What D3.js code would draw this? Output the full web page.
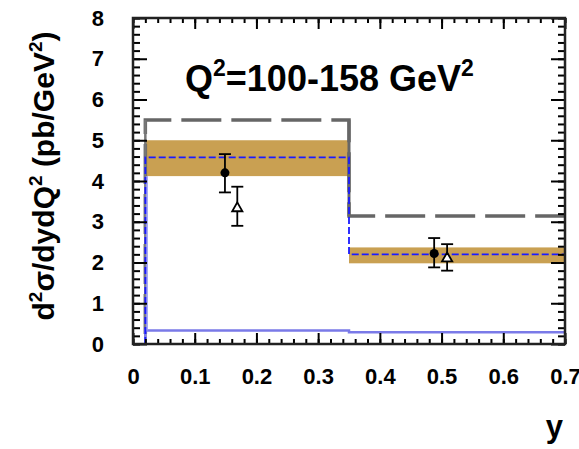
<!DOCTYPE html>
<html>
<head>
<meta charset="utf-8">
<script src="https://cdn.jsdelivr.net/npm/d3@7"></script>
<style>
  body { margin: 0; background: #fff; }
  svg { font-family: "Liberation Sans", Arial, sans-serif; font-weight: bold; }
  .ax path.domain { display: none; }
  .ax line { stroke: #000; stroke-width: 2px; }
  .ax text { font-size: 22px; font-family: "Liberation Sans", Arial, sans-serif; font-weight: bold; fill: #000; }
</style>
</head>
<body>
<div id="chart"></div>
<script>
// bins in y
var binEdges = [0.02, 0.35, 0.7];
// band (uncertainty) per bin
var bandLow = [4.12, 1.98];
var bandHigh = [5.0, 2.37];
// blue dashed prediction
var blueDashed = [4.58, 2.20];
// grey long-dashed prediction
var greyDashed = [5.5, 3.14];
// light blue solid component
var blueSolid = [0.33, 0.29];
// data: filled circles
var circX = [0.149, 0.488];
var circY = [4.20, 2.22];
var circHi = [4.66, 2.60];
var circLo = [3.72, 1.88];
// data: open triangles
var triX = [0.169, 0.509];
var triY = [3.33, 2.10];
var triHi = [3.86, 2.45];
var triLo = [2.90, 1.80];
var xTicks = [0, 0.1, 0.2, 0.3, 0.4, 0.5, 0.6, 0.7];
var yTicks = [0, 1, 2, 3, 4, 5, 6, 7, 8];

var W = 579, H = 449;
var margin = {top: 18, right: 14, bottom: 105, left: 133};
var width = W - margin.left - margin.right,
    height = H - margin.top - margin.bottom;

var svg = d3.select("#chart").append("svg")
  .attr("width", W).attr("height", H)
  .append("g")
  .attr("transform", "translate(" + margin.left + "," + margin.top + ")");

var x = d3.scaleLinear().domain([0, 0.7]).range([0, width]);
var y = d3.scaleLinear().domain([0, 8]).range([height, 0]);

function stepPath(vals){
  var p = d3.path();
  p.moveTo(x(binEdges[0]), y(0));
  vals.forEach(function(v, i){
    p.lineTo(x(binEdges[i]), y(v));
    p.lineTo(x(binEdges[i+1]), y(v));
  });
  return p.toString();
}

// bands
svg.selectAll("rect.band").data(bandLow).enter().append("rect")
  .attr("x", function(d, i){ return x(binEdges[i]); })
  .attr("width", function(d, i){ return x(binEdges[i+1]) - x(binEdges[i]); })
  .attr("y", function(d, i){ return y(bandHigh[i]); })
  .attr("height", function(d, i){ return y(bandLow[i]) - y(bandHigh[i]); })
  .attr("fill", "#c9a052");

// grey long dashed histogram
svg.append("path").attr("d", stepPath(greyDashed))
  .attr("fill", "none").attr("stroke", "#666").attr("stroke-width", 3.5)
  .attr("stroke-dasharray", "40,10").attr("stroke-dashoffset", -(y(0) - y(greyDashed[0])) - 36);
// solid grey verticals
svg.append("line").attr("x1", x(binEdges[1])).attr("x2", x(binEdges[1]))
  .attr("y1", y(greyDashed[0])).attr("y2", y(greyDashed[1]))
  .attr("stroke", "#666").attr("stroke-width", 3);
svg.append("line").attr("x1", x(binEdges[0])).attr("x2", x(binEdges[0]))
  .attr("y1", y(greyDashed[0])).attr("y2", y(0))
  .attr("stroke", "#777").attr("stroke-width", 2.5);

// light blue solid
svg.append("path").attr("d", stepPath(blueSolid))
  .attr("fill", "none").attr("stroke", "#7a7ae8").attr("stroke-width", 2.5);
svg.append("line").attr("x1", x(binEdges[0]) + 1.5).attr("x2", x(binEdges[0]) + 1.5)
  .attr("y1", y(bandLow[0])).attr("y2", y(blueSolid[0]))
  .attr("stroke", "#9a9af0").attr("stroke-width", 2);

// blue dashed
svg.append("path").attr("d", stepPath(blueDashed))
  .attr("fill", "none").attr("stroke", "#1a1aff").attr("stroke-width", 1.8)
  .attr("stroke-dasharray", "7,3");

// error bars
function errBars(xs, hi, lo){
  var g = svg.append("g");
  xs.forEach(function(xv, i){
    g.append("line").attr("x1", x(xv)).attr("x2", x(xv)).attr("y1", y(hi[i])).attr("y2", y(lo[i]))
      .attr("stroke", "#000").attr("stroke-width", 1.8);
    [hi[i], lo[i]].forEach(function(v){
      g.append("line").attr("x1", x(xv) - 6).attr("x2", x(xv) + 6).attr("y1", y(v)).attr("y2", y(v))
        .attr("stroke", "#000").attr("stroke-width", 1.8);
    });
  });
}
errBars(circX, circHi, circLo);
errBars(triX, triHi, triLo);

svg.selectAll("circle.pt").data(circX).enter().append("circle")
  .attr("cx", function(d){ return x(d); })
  .attr("cy", function(d, i){ return y(circY[i]); })
  .attr("r", 4.5).attr("fill", "#000");

svg.selectAll("path.tri").data(triX).enter().append("path")
  .attr("d", d3.symbol().type(d3.symbolTriangle).size(45))
  .attr("transform", function(d, i){ return "translate(" + x(d) + "," + y(triY[i]) + ")"; })
  .attr("fill", "#fff").attr("stroke", "#000").attr("stroke-width", 1.8);

// axes: inward ticks on all four sides
var xMinor = d3.range(0, 36).map(function(k){ return k * 0.02; });
var yMinor = d3.range(0, 41).map(function(k){ return k * 0.2; });

svg.append("g").attr("class", "ax").attr("transform", "translate(0," + height + ")")
  .call(d3.axisBottom(x).tickValues(xMinor).tickSize(-5).tickFormat(""));
svg.append("g").attr("class", "ax").attr("transform", "translate(0," + height + ")")
  .call(d3.axisBottom(x).tickValues(xTicks).tickSize(-11).tickPadding(24)
    .tickFormat(function(d){ return d === 0 ? "0" : d3.format(".1f")(d); }));
svg.append("g").attr("class", "ax")
  .call(d3.axisTop(x).tickValues(xMinor).tickSize(-5).tickFormat(""));
svg.append("g").attr("class", "ax")
  .call(d3.axisTop(x).tickValues(xTicks).tickSize(-11).tickFormat(""));

svg.append("g").attr("class", "ax")
  .call(d3.axisLeft(y).tickValues(yMinor).tickSize(-7).tickFormat(""));
svg.append("g").attr("class", "ax")
  .call(d3.axisLeft(y).tickValues(yTicks).tickSize(-14).tickPadding(29));
svg.append("g").attr("class", "ax").attr("transform", "translate(" + width + ",0)")
  .call(d3.axisRight(y).tickValues(yMinor).tickSize(-7).tickFormat(""));
svg.append("g").attr("class", "ax").attr("transform", "translate(" + width + ",0)")
  .call(d3.axisRight(y).tickValues(yTicks).tickSize(-14).tickFormat(""));

// frame
svg.append("rect").attr("width", width).attr("height", height)
  .attr("fill", "none").attr("stroke", "#222").attr("stroke-width", 2.5);

// axis titles
svg.append("text").attr("x", width - 2).attr("y", height + 93)
  .attr("text-anchor", "end").attr("font-size", 31).text("y");

var yl = svg.append("text")
  .attr("transform", "translate(" + (-79) + "," + (height / 2 - 5) + ") rotate(-90)")
  .attr("text-anchor", "middle").attr("font-size", 30);
yl.append("tspan").text("d");
yl.append("tspan").attr("font-size", 19).attr("dy", -12).text("2");
yl.append("tspan").attr("dy", 12).text("σ/dydQ");
yl.append("tspan").attr("font-size", 19).attr("dy", -12).text("2");
yl.append("tspan").attr("dy", 12).text(" (pb/GeV");
yl.append("tspan").attr("font-size", 19).attr("dy", -12).text("2");
yl.append("tspan").attr("dy", 12).text(")");

var title = svg.append("text").attr("x", 52).attr("y", 73).attr("font-size", 36);
title.append("tspan").text("Q");
title.append("tspan").attr("font-size", 23).attr("dy", -15).text("2");
title.append("tspan").attr("dy", 15).text("=100-158 GeV");
title.append("tspan").attr("font-size", 23).attr("dy", -15).text("2");
</script>
</body>
</html>
